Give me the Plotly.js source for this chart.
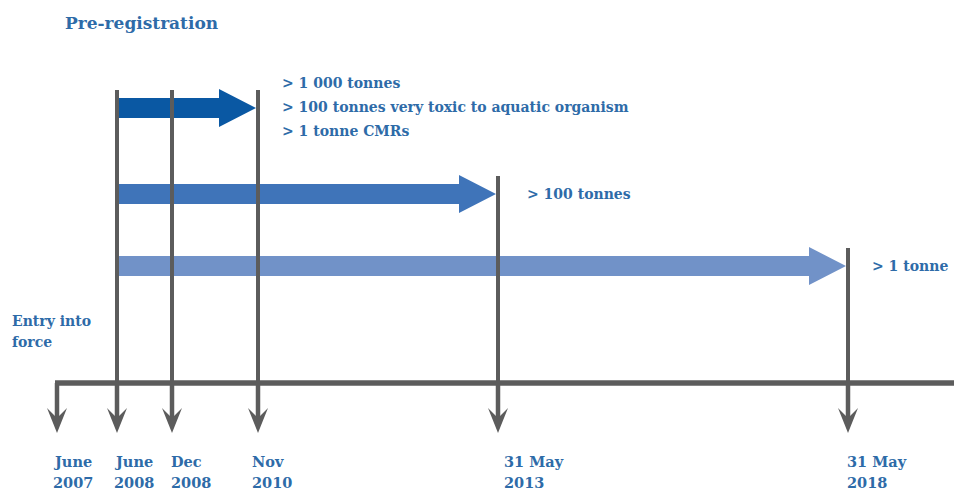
<!DOCTYPE html>
<html>
<head>
<meta charset="utf-8">
<script src="https://cdn.plot.ly/plotly-3.0.1.min.js"></script>
<style>html,body{margin:0;padding:0;background:#fff;}#chart{width:954px;height:491px;}</style>
</head>
<body>
<div id="chart"></div>
<script>
// ---- data ----
const milestoneMonths = ["June", "June", "Dec", "Nov", "31 May", "31 May"];
const milestoneYears = ["2007", "2008", "2008", "2010", "2013", "2018"];
const phaseLabels = [
  ["> 1 000 tonnes", "> 100 tonnes very toxic to aquatic organism", "> 1 tonne CMRs"],
  ["> 100 tonnes"],
  ["> 1 tonne"]
];
const phaseStart = [1, 1, 1];   // milestone index where each registration phase starts
const phaseEnd = [3, 4, 5];     // milestone index of each deadline
const entryLabel = ["Entry into", "force"];
const titleText = "Pre-registration";

// ---- layout constants (positions / styles) ----
const milestoneX = [57, 117, 172, 258, 498, 848];
const labelDx = [-6, -5, -3, -8, 4, -3];
const timelineY = 383;
const arrowTipY = 433;
const phaseY = [108, 194, 266];
const phaseColors = ["#0a58a3", "#3f74b9", "#7192c8"];
const lineGray = "#5c5c5c";
const textBlue = "#2e6ba8";
const fontFam = "DejaVu Serif, Liberation Serif, serif";

const traces = [];
// registration arrows
phaseStart.forEach((s, i) => {
  const x0 = milestoneX[s];
  const x1 = milestoneX[phaseEnd[i]] - 2;
  const yc = phaseY[i], bh = 10, hh = 19, hl = 37;
  traces.push({
    type: "scatter", mode: "lines", fill: "toself", hoverinfo: "skip",
    x: [x0, x1 - hl, x1 - hl, x1, x1 - hl, x1 - hl, x0, x0],
    y: [yc - bh, yc - bh, yc - hh, yc, yc + hh, yc + bh, yc + bh, yc - bh],
    fillcolor: phaseColors[i], line: {width: 0, color: phaseColors[i]}
  });
});
// vertical milestone lines above the timeline
milestoneX.forEach((mx, k) => {
  let top = null;
  phaseStart.forEach((s, i) => {
    if (s === k || phaseEnd[i] === k || (k > s && k < phaseEnd[i] && i === 0)) {
      const t = phaseY[i] - 18;
      if (top === null || t < top) top = t;
    }
  });
  if (top !== null) {
    traces.push({type: "scatter", mode: "lines", hoverinfo: "skip",
      x: [mx, mx], y: [top, timelineY], line: {color: lineGray, width: 4}});
  }
});
// timeline
traces.push({type: "scatter", mode: "lines", hoverinfo: "skip",
  x: [milestoneX[0] - 2, 954], y: [timelineY, timelineY], line: {color: lineGray, width: 5.5}});
// down arrows
milestoneX.forEach((mx) => {
  traces.push({type: "scatter", mode: "lines", hoverinfo: "skip",
    x: [mx, mx], y: [timelineY, arrowTipY - 12], line: {color: lineGray, width: 4.5}});
  traces.push({type: "scatter", mode: "lines", fill: "toself", hoverinfo: "skip",
    x: [mx - 10, mx, mx + 10, mx, mx - 10],
    y: [arrowTipY - 25, arrowTipY - 15, arrowTipY - 25, arrowTipY, arrowTipY - 25],
    fillcolor: lineGray, line: {width: 0, color: lineGray}});
});

const ann = [];
const txt = (x, y, t, size) => ann.push({x: x, y: y, xref: "x", yref: "y", text: t, showarrow: false,
  xanchor: "left", yanchor: "middle", align: "left",
  font: {family: fontFam, size: size || 14, color: textBlue, weight: "bold"}});
// title
txt(63, 23, "<b>" + titleText + "</b>", 17);
// phase labels
phaseLabels.forEach((lines, i) => {
  const tipX = milestoneX[phaseEnd[i]];
  const dx = i === 1 ? 27 : 22;
  const y0 = i === 0 ? phaseY[i] - 25 : phaseY[i];
  lines.forEach((l, j) => txt(tipX + dx, y0 + j * 24, "<b>" + l + "</b>", 14));
});
// entry into force
entryLabel.forEach((l, j) => txt(10, 321 + j * 21, "<b>" + l + "</b>", 14));
// milestone labels
milestoneX.forEach((mx, k) => {
  txt(mx + labelDx[k], 461, "<b>" + milestoneMonths[k] + "</b>", 14.5);
  txt(mx + labelDx[k], 482, "<b>" + milestoneYears[k] + "</b>", 14.5);
});

const layout = {
  width: 954, height: 491,
  margin: {l: 0, r: 0, t: 0, b: 0},
  paper_bgcolor: "#fff", plot_bgcolor: "#fff",
  showlegend: false,
  xaxis: {range: [0, 954], visible: false, fixedrange: true},
  yaxis: {range: [491, 0], visible: false, fixedrange: true},
  annotations: ann
};
Plotly.newPlot("chart", traces, layout, {staticPlot: true});
</script>
</body>
</html>
